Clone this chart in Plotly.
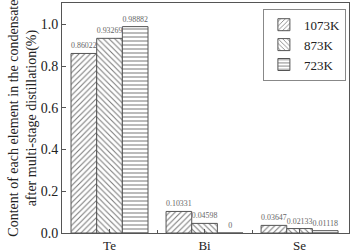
import plotly.graph_objects as go

categories = ["Te", "Bi", "Se"]
series_names = ["1073K", "873K", "723K"]
values_1073 = [0.86022, 0.10331, 0.03647]
values_873 = [0.93269, 0.04598, 0.02133]
values_723 = [0.98882, 0.0, 0.01118]
labels_1073 = ["0.86022", "0.10331", "0.03647"]
labels_873 = ["0.93269", "0.04598", "0.02133"]
labels_723 = ["0.98882", "0", "0.01118"]
y_ticks = [0.0, 0.2, 0.4, 0.6, 0.8, 1.0]

patterns = ["/", "\\", "-"]
all_vals = [values_1073, values_873, values_723]
all_labels = [labels_1073, labels_873, labels_723]

line_col = "#555555"
font_fam = "Liberation Serif"

fig = go.Figure()
xpos = list(range(len(categories)))
for name, vals, labs, pat in zip(series_names, all_vals, all_labels, patterns):
    fig.add_trace(go.Bar(
        x=xpos, y=vals, name=name, text=labs,
        textposition="outside", cliponaxis=False,
        textfont=dict(size=8, color="#666666", family=font_fam),
        outsidetextfont=dict(size=8, color="#666666", family=font_fam),
        marker=dict(color="white", line=dict(color=line_col, width=1),
                    pattern=dict(shape=pat, fgcolor="#777777", bgcolor="white",
                                 size=4, solidity=0.25, fillmode="replace")),
    ))

fig.update_layout(
    width=350, height=252,
    margin=dict(l=62, r=1, t=3, b=19),
    paper_bgcolor="white", plot_bgcolor="white",
    barmode="group", bargap=0.19, bargroupgap=0,
    font=dict(family=font_fam, size=13, color="#222222"),
    showlegend=True,
    legend=dict(x=0.70, y=0.975, xanchor="left", yanchor="top",
                bordercolor="#888888", borderwidth=1, bgcolor="white",
                font=dict(size=13, family=font_fam), tracegroupgap=0,
                itemwidth=30),
)
fig.update_xaxes(
    range=[-0.5, 2.52], tickvals=xpos, ticktext=categories, automargin=False,
    ticks="inside", ticklen=4, tickcolor=line_col,
    minor=dict(tickvals=[0.5, 1.5], ticks="inside", ticklen=3, tickcolor=line_col),
    showline=True, linecolor=line_col, linewidth=1, mirror=True,
    showgrid=False, zeroline=False, tickfont=dict(size=13),
)
fig.update_yaxes(
    range=[0, 1.102], tickvals=y_ticks, tickformat=".1f", automargin=False,
    ticks="inside", ticklen=4, tickcolor=line_col,
    showline=True, linecolor=line_col, linewidth=1, mirror=True,
    showgrid=False, zeroline=False, tickfont=dict(size=14),
)
fig.add_annotation(
    text="Content of each element in the condensate<br>after multi-stage distillation(%)",
    xref="paper", yref="paper", x=-0.137, y=0.5, xanchor="center", yanchor="middle",
    textangle=-90, showarrow=False, font=dict(size=14, family=font_fam, color="#222222"),
)
fig.write_html("out.html", config={"displayModeBar": False},
               post_script="document.body.style.margin='0';document.body.style.overflow='hidden';")
